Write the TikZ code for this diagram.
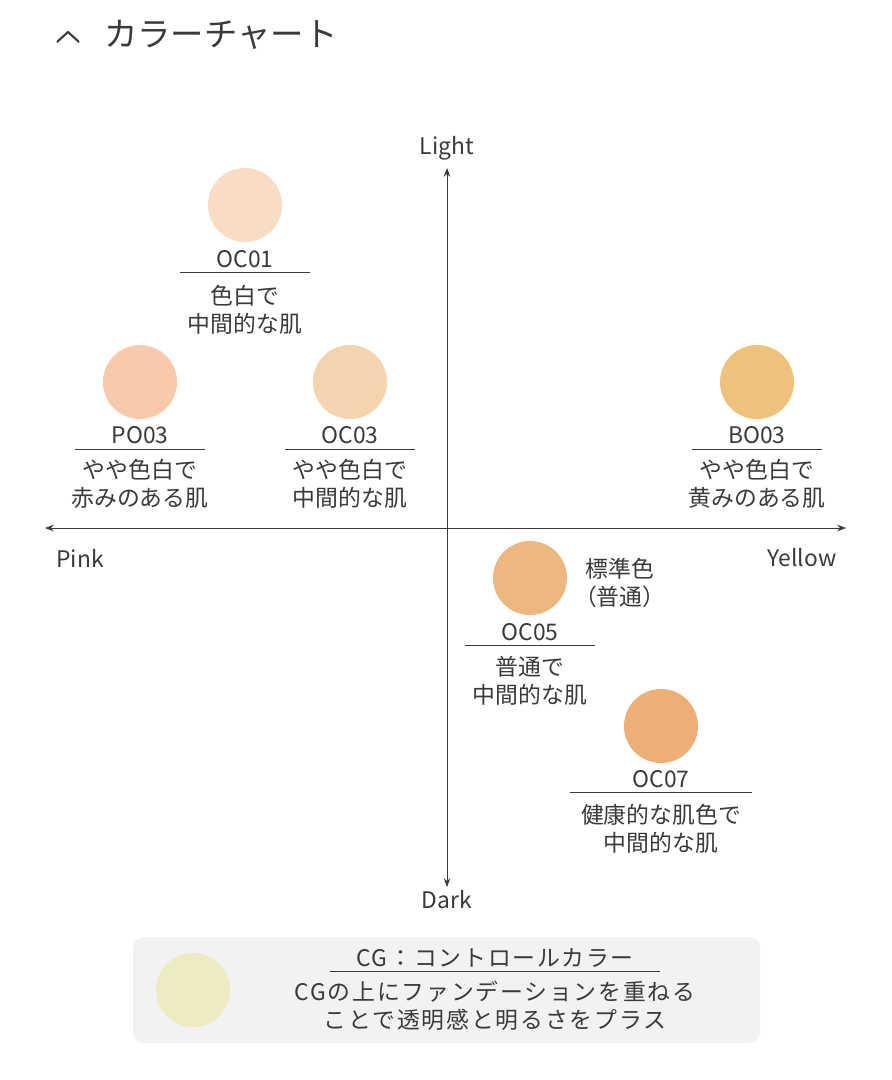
\documentclass[tikz,border=0pt]{standalone}
\usepackage{fontspec}
\setmainfont{Noto Sans CJK JP}
\usetikzlibrary{arrows.meta,positioning}
\definecolor{txt}{HTML}{3A3A3A}
\definecolor{cOCa}{HTML}{F8DCC4}
\definecolor{cPO}{HTML}{F8C9AA}
\definecolor{cOCc}{HTML}{F5D3AF}
\definecolor{cBO}{HTML}{EFC27B}
\definecolor{cOCe}{HTML}{EDB880}
\definecolor{cOCg}{HTML}{EDAE77}
\definecolor{cCG}{HTML}{EEEBC2}
\definecolor{boxbg}{HTML}{F2F2F2}
\tikzset{
  dot/.style={circle,minimum size=74*0.02cm,inner sep=0pt},
  code/.style={font=\fontsize{13}{14}\selectfont,text=txt,inner sep=1pt},
  desc/.style={font=\fontsize{13}{16}\selectfont,text=txt,align=center,inner sep=1pt},
  ax/.style={draw=txt,line width=0.5pt},
}
\begin{document}
\begin{tikzpicture}[x=0.02cm,y=-0.02cm]
\useasboundingbox (0,0) rectangle (892,1080);
% title
\draw[txt,line width=1.2pt] (57,42) -- (68,32) -- (79,42);
\node[anchor=west,font=\fontsize{19}{20}\selectfont,text=txt] (title) at (98,35) {カラーチャート};
% axes
\node[code] (light) at (447,148) {Light};
\node[code] (dark) at (447,900) {Dark};
\node[code] (pink) at (80,558) {Pink};
\node[code] (yellow) at (802,558) {Yellow};
\coordinate (top) at (447,168);
\coordinate (bot) at (447,887);
\coordinate (lft) at (45,528);
\coordinate (rgt) at (846,528);
\draw[ax,{Stealth[length=5pt]}-{Stealth[length=5pt]}] (bot) -- (top);
\draw[ax,{Stealth[length=5pt]}-{Stealth[length=5pt]}] (lft) -- (rgt);
% OC01
\node[dot,fill=cOCa] (oc01) at (245,205) {};
\node[code] (oc01l) at (245,259) {OC01};
\draw[txt,line width=0.4pt] (180,272) -- (310,272);
\node[desc] (oc01d) at (245,310) {色白で\\中間的な肌};
% PO03
\node[dot,fill=cPO] (po03) at (140,382) {};
\node[code] (po03l) at (140,435) {PO03};
\draw[txt,line width=0.4pt] (75,449) -- (205,449);
\node[desc] (po03d) at (140,484) {やや色白で\\赤みのある肌};
% OC03
\node[dot,fill=cOCc] (oc03) at (350,382) {};
\node[code] (oc03l) at (350,435) {OC03};
\draw[txt,line width=0.4pt] (285,449) -- (415,449);
\node[desc] (oc03d) at (350,484) {やや色白で\\中間的な肌};
% BO03
\node[dot,fill=cBO] (bo03) at (757,382) {};
\node[code] (bo03l) at (757,435) {BO03};
\draw[txt,line width=0.4pt] (692,449) -- (822,449);
\node[desc] (bo03d) at (757,484) {やや色白で\\黄みのある肌};
% OC05
\node[dot,fill=cOCe] (oc05) at (530,578) {};
\node[desc,anchor=west] (std) at (572,583) {標準色\\（普通）};
\node[code] (oc05l) at (530,632) {OC05};
\draw[txt,line width=0.4pt] (465,645) -- (595,645);
\node[desc] (oc05d) at (530,681) {普通で\\中間的な肌};
% OC07
\node[dot,fill=cOCg] (oc07) at (661,726) {};
\node[code] (oc07l) at (661,779) {OC07};
\draw[txt,line width=0.4pt] (570,792) -- (752,792);
\node[desc] (oc07d) at (661,829) {健康的な肌色で\\中間的な肌};
% control color box
\fill[boxbg,rounded corners=6pt] (133,937) rectangle (760,1043);
\node[dot,fill=cCG] (cg) at (193,990) {};
\node[code,font=\fontsize{13}{14}\selectfont\addfontfeature{LetterSpace=8}] (cgl) at (495,958) {CG：コントロールカラー};
\draw[txt,line width=0.4pt] (330,971) -- (660,971);
\node[desc,font=\fontsize{13}{16}\selectfont\addfontfeature{LetterSpace=8}] (cgd) at (495,1006) {CGの上にファンデーションを重ねる\\ことで透明感と明るさをプラス};
\end{tikzpicture}
\end{document}
